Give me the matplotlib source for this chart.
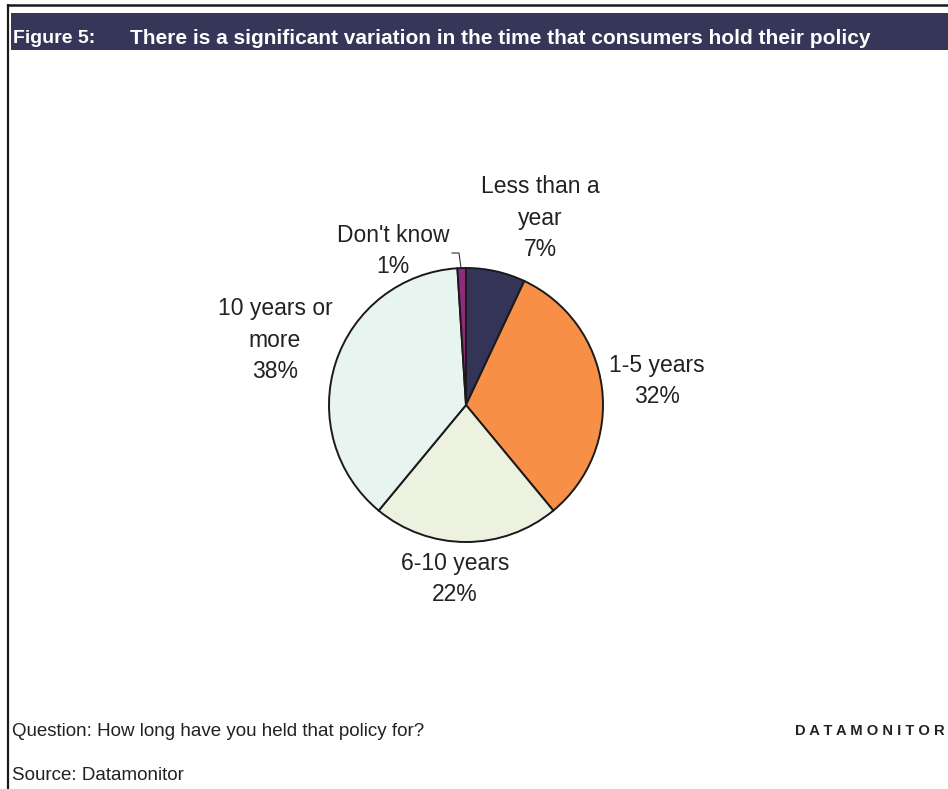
import matplotlib
matplotlib.use("Agg")
import matplotlib.pyplot as plt
from matplotlib.patches import Rectangle

plt.rcParams['font.family'] = ['Liberation Sans', 'DejaVu Sans']

# Survey data: how long consumers have held their policy
categories = ["Less than a\nyear", "1-5 years", "6-10 years", "10 years or\nmore", "Don't know"]
shares = [7, 32, 22, 38, 1]
colors = ["#343458", "#F79046", "#ECF2DF", "#E8F4F0", "#8E2B7C"]

title_tag = "Figure 5:"
title_text = "There is a significant variation in the time that consumers hold their policy"
question = "Question: How long have you held that policy for?"
source = "Source: Datamonitor"
brand = "DATAMONITOR"

W, H = 948, 789
fig = plt.figure(figsize=(W / 100, H / 100), dpi=100)
fig.patch.set_facecolor("white")

# Overlay axes in pixel units (y downwards) for frame, header and notes
ov = fig.add_axes([0, 0, 1, 1])
ov.set_xlim(0, W)
ov.set_ylim(H, 0)
ov.axis("off")

ov.plot([8.5, 8.5], [4, H], color="#1a1a1a", lw=1.6, solid_capstyle="butt")
ov.plot([8, W], [5, 5], color="#1a1a1a", lw=1.8, solid_capstyle="butt")
ov.add_patch(Rectangle((11, 13), W - 11, 37, facecolor="#363659", edgecolor="none"))
ov.text(13, 38, title_tag, color="white", fontsize=14, fontweight="bold", va="center", ha="left")
ov.text(130, 38, title_text, color="white", fontsize=15, fontweight="bold", va="center", ha="left")

ov.text(12, 731, question, fontsize=13.5, color="#222222", va="center", ha="left")
ov.text(12, 775, source, fontsize=13.5, color="#222222", va="center", ha="left")
ov.text(945, 731, " ".join(brand), fontsize=10.6, fontweight="bold", color="#222222",
        va="center", ha="right")

# Pie axes: centre (466, 405) px, radius 137 px
cx, cy, r = 466, 405, 137
pax = fig.add_axes([(cx - r) / W, (H - cy - r) / H, 2 * r / W, 2 * r / H])
wedges, _ = pax.pie(shares, colors=colors, startangle=90, counterclock=False,
                    wedgeprops=dict(edgecolor="#1a1a1a", linewidth=1.4))
pax.set_xlim(-1, 1)
pax.set_ylim(-1, 1)
pax.set_aspect("equal")
for w in wedges:
    w.set_clip_on(False)

# Data labels
label_pos = [(540, 218), (657, 381), (455, 579), (275, 340), (393, 251)]
for name, val, (lx, ly) in zip(categories, shares, label_pos):
    ov.text(lx, ly, f"{name}\n{val}%", fontsize=16.5, color="#222222",
            ha="center", va="center", linespacing=1.45)

# Leader line for the smallest slice
ov.plot([452, 459, 461], [253, 253, 268], color="#333333", lw=0.8)

fig.savefig("out.png", dpi=100, facecolor="white")
